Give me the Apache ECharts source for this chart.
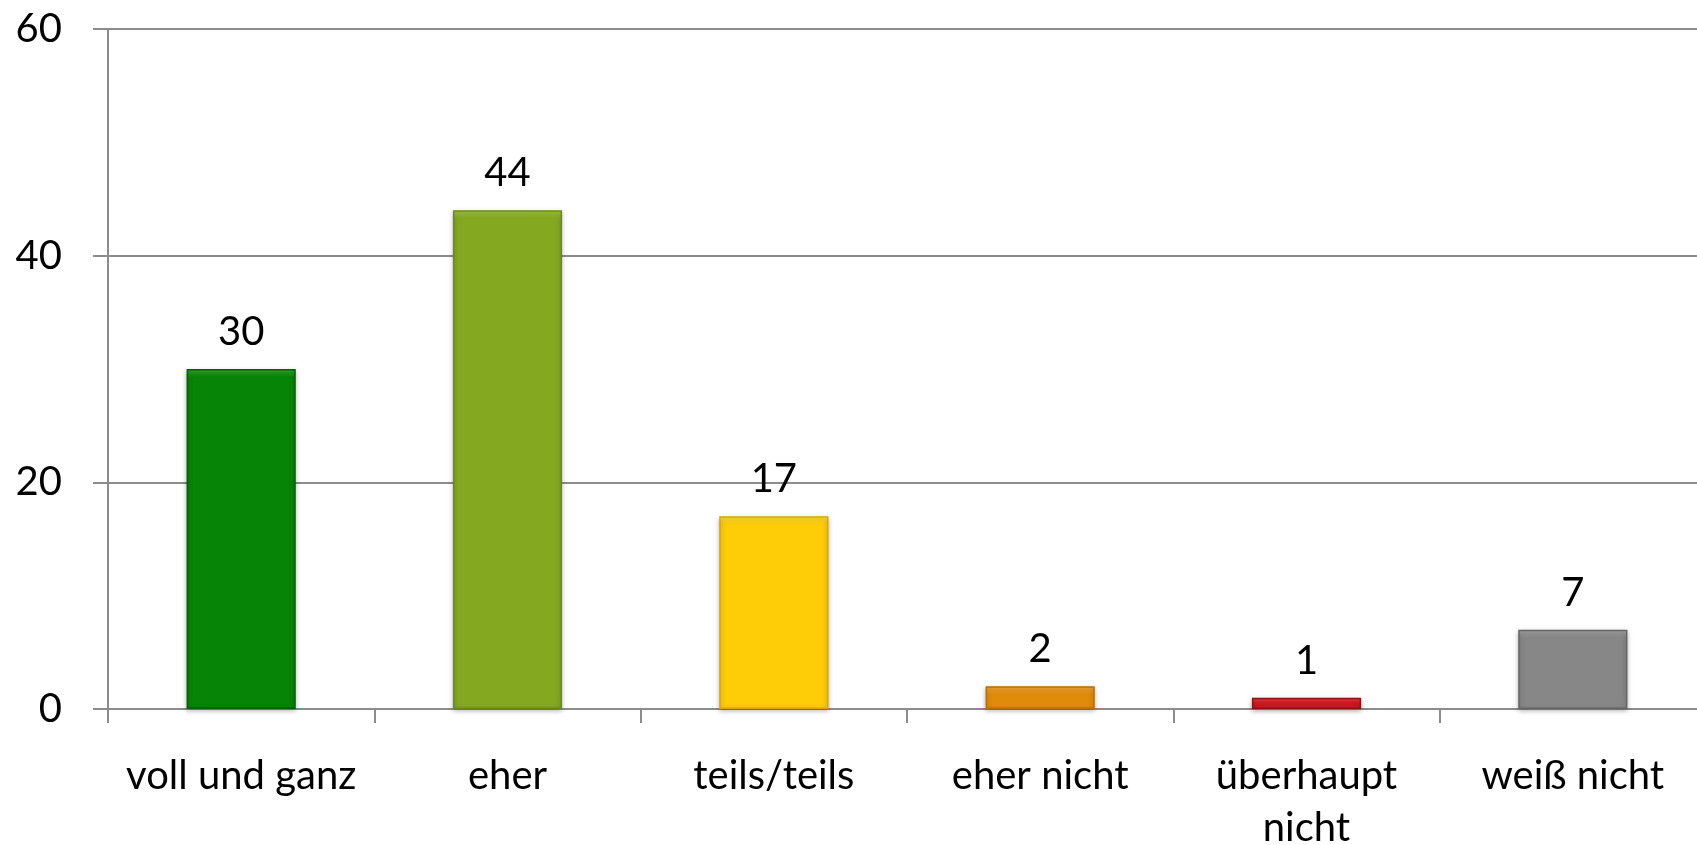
<!DOCTYPE html>
<html>
<head>
<meta charset="utf-8">
<script src="https://cdn.jsdelivr.net/npm/echarts@6/dist/echarts.min.js"></script>
<style>
  html, body { margin: 0; padding: 0; background: #fff; overflow: hidden; }
  #chart { width: 100vw; height: 100vh; }
</style>
</head>
<body>
<div id="chart"></div>
<script>
  // answer categories and share values
  var categories = ['voll und ganz', 'eher', 'teils/teils', 'eher nicht', 'überhaupt\nnicht', 'weiß nicht']
  var values = [30, 44, 17, 2, 1, 7]
  var barColors = ['#068406', '#84a820', '#ffcc08', '#e08c0a', '#cc1a1e', '#878787']
  var topColors = ['#2fae2f', '#a6cc3c', '#ffe040', '#f5ac3a', '#e84448', '#a8a8a8']
  var borderColors = ['#045e04', '#6a8a18', '#d9a800', '#b86e06', '#8e1013', '#666666']
  var yTicks = [0, 20, 40, 60]

  var font = 'Lato, "Open Sans", sans-serif'

  var chart = echarts.init(document.getElementById('chart'))

  var barData = values.map(function (v, i) {
    return {
      value: v,
      itemStyle: {
        // light bevel strip on the top edge, like the office-style bars
        color: {
          type: 'linear', x: 0, y: 0, x2: 0, y2: 1,
          colorStops: [
            { offset: 0, color: topColors[i] },
            { offset: Math.min(0.5, 8 / (v * 11.3)), color: barColors[i] },
            { offset: 1, color: barColors[i] }
          ]
        },
        borderColor: borderColors[i],
        borderWidth: 1.5,
        shadowColor: 'rgba(0,0,0,0.3)',
        shadowBlur: 5,
        shadowOffsetY: 2
      }
    }
  })

  chart.setOption({
    animation: false,
    grid: {
      left: 108,
      right: -9,
      top: 29,
      bottom: 136,
      outerBoundsMode: 'none'
    },
    xAxis: {
      type: 'category',
      data: categories,
      axisLine: { show: true, lineStyle: { color: '#8c8c8c', width: 2 } },
      axisTick: { show: true, length: 14, lineStyle: { color: '#8c8c8c', width: 2 } },
      axisLabel: {
        color: '#000',
        fontFamily: font,
        fontSize: 40,
        lineHeight: 52,
        margin: 41,
        interval: 0
      }
    },
    yAxis: {
      type: 'value',
      min: yTicks[0],
      max: yTicks[yTicks.length - 1],
      interval: 20,
      axisLine: { show: true, lineStyle: { color: '#8c8c8c', width: 2 } },
      axisTick: { show: true, length: 15, lineStyle: { color: '#8c8c8c', width: 2 } },
      splitLine: { show: true, lineStyle: { color: '#8c8c8c', width: 2 } },
      axisLabel: {
        color: '#000',
        fontFamily: font,
        fontSize: 40,
        margin: 46
      }
    },
    series: [
      {
        type: 'bar',
        data: barData,
        barWidth: '41%',
        label: {
          show: true,
          position: 'top',
          distance: 17,
          color: '#000',
          fontFamily: font,
          fontSize: 40
        }
      }
    ]
  })
</script>
</body>
</html>
